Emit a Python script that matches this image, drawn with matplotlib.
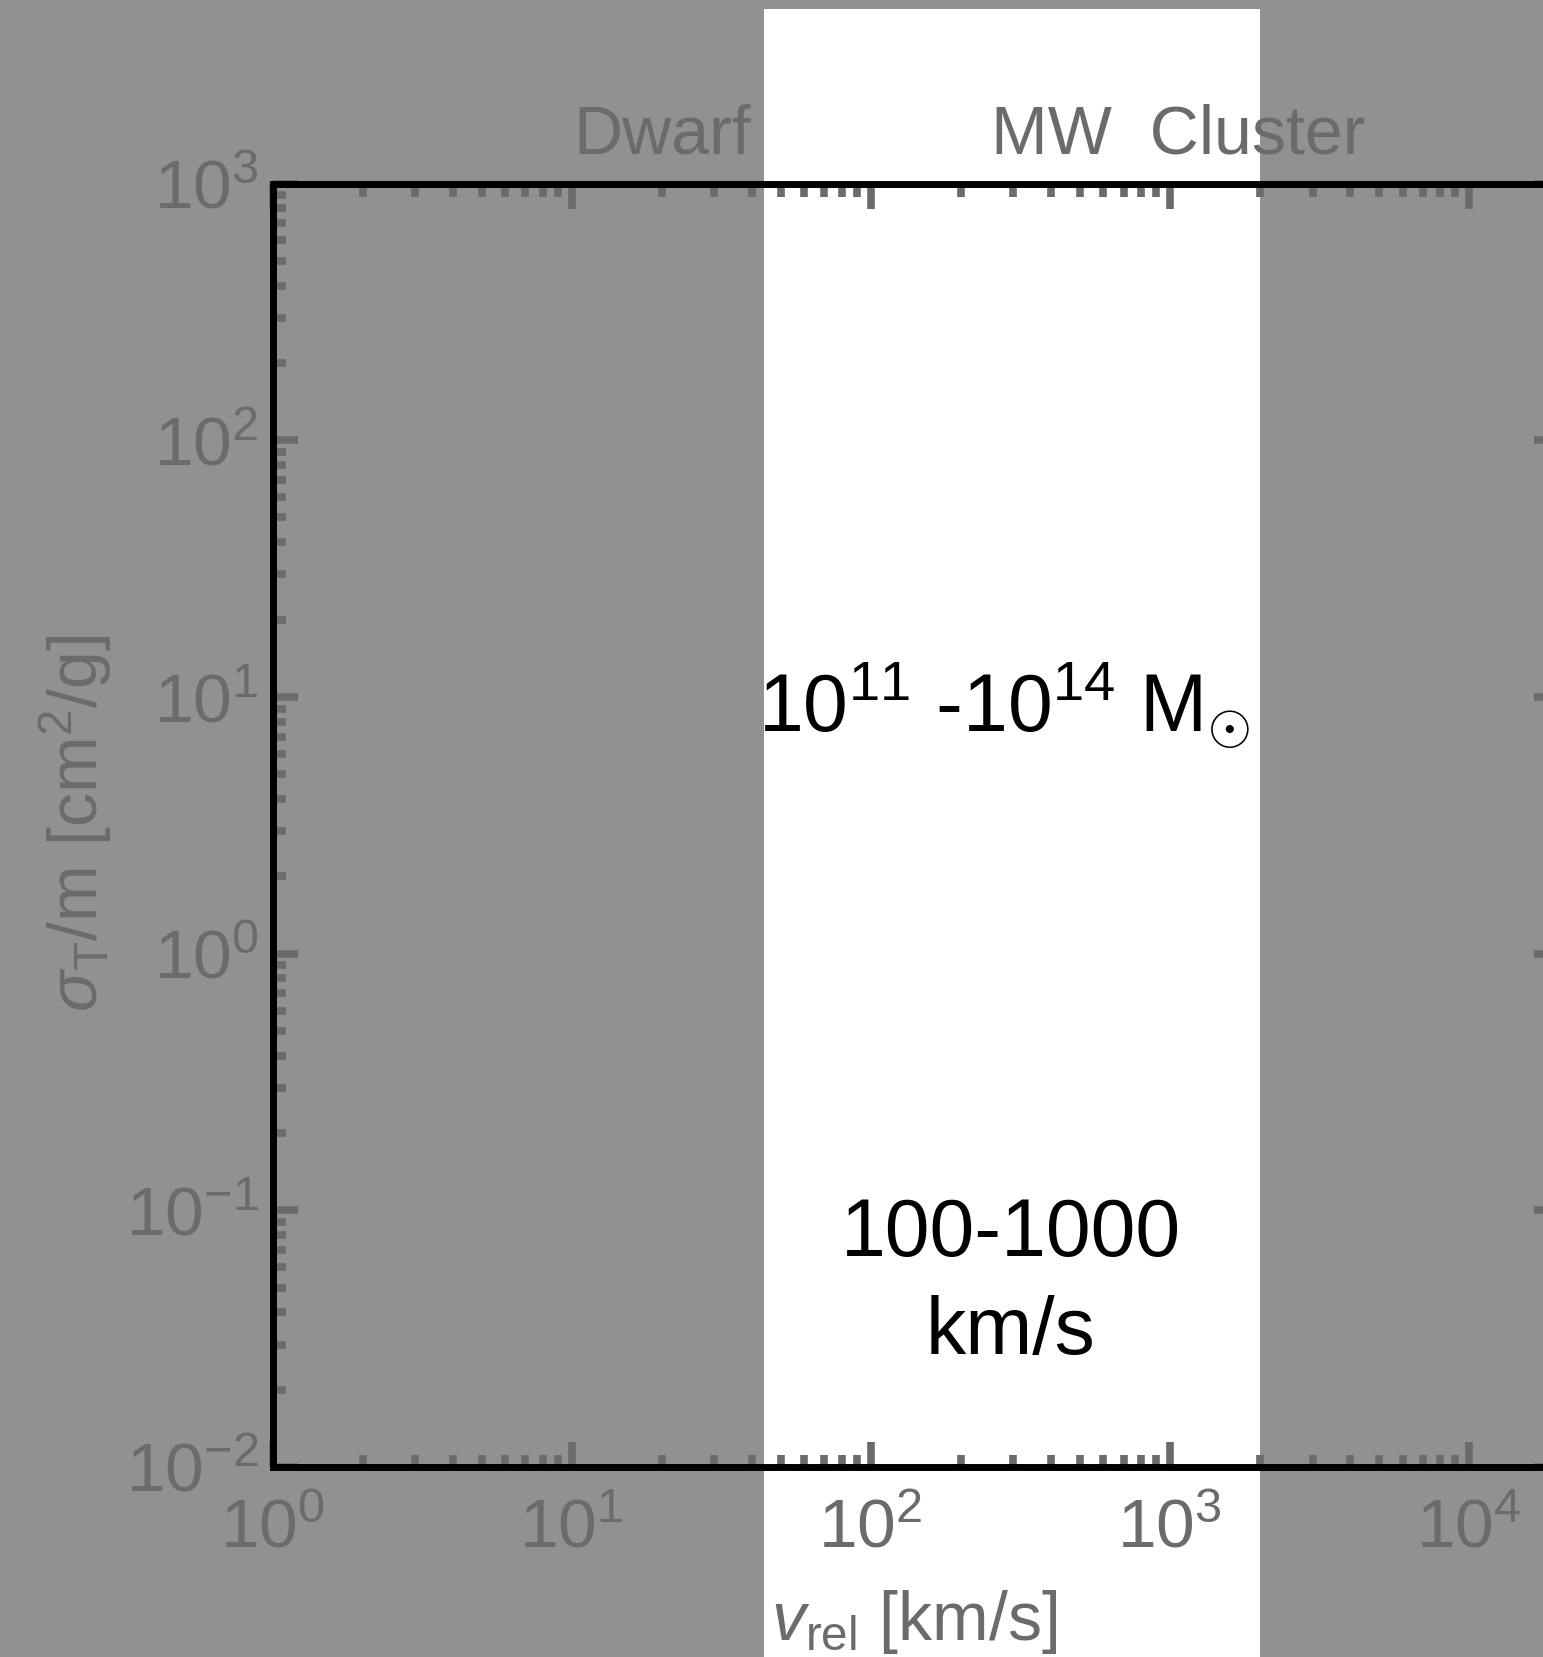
import math
import matplotlib
matplotlib.use("Agg")
import matplotlib.pyplot as plt
from matplotlib.patches import Rectangle
from matplotlib.transforms import blended_transform_factory
from matplotlib.ticker import FuncFormatter, LogLocator

plt.rcParams['font.family'] = ['Liberation Sans', 'DejaVu Sans']
plt.rcParams['mathtext.fontset'] = 'custom'
plt.rcParams['mathtext.rm'] = 'Liberation Sans'
plt.rcParams['mathtext.it'] = 'Liberation Sans:italic'
plt.rcParams['mathtext.bf'] = 'Liberation Sans:bold'

# ---- data ----
x_limits = [1, 2e4]            # v_rel [km/s]
y_limits = [1e-2, 1e3]         # sigma_T/m [cm^2/g]
band_velocity = [44, 2000]     # highlighted velocity band [km/s]
region_labels = ["Dwarf", "MW  Cluster"]
band_mass_label = r"$10^{11}$ -$10^{14}$ M$_{\odot}$"
band_velocity_label = "100-1000\nkm/s"
x_label = r"$v_{\mathrm{rel}}$ [km/s]"
y_label = r"$\sigma_{\mathrm{T}}$/m [cm$^{2}$/g]"

W, H = 1543, 1657
DPI = 100
GRAY_BG = '#919191'
GRAY_TXT = '#6b6b6b'

fig = plt.figure(figsize=(W / DPI, H / DPI), dpi=DPI, facecolor=GRAY_BG)


def fx(px):
    return px / W


def fy(py):
    return 1 - py / H


left, right, top, bottom = 272.5, 1559, 183.5, 1467
ax = fig.add_axes([fx(left), fy(bottom), fx(right) - fx(left), fy(top) - fy(bottom)])
ax.set_facecolor('none')
ax.set_xscale('log')
ax.set_yscale('log')
ax.set_xlim(*x_limits)
ax.set_ylim(*y_limits)

# white band spanning full figure height (except a small top margin)
trans = blended_transform_factory(ax.transData, fig.transFigure)
band = Rectangle((band_velocity[0], 0), band_velocity[1] - band_velocity[0], fy(8.5),
                 transform=trans, facecolor='white', edgecolor='none',
                 clip_on=False, zorder=0)
ax.add_patch(band)

for s in ax.spines.values():
    s.set_color('black')
    s.set_linewidth(5)

fmt = FuncFormatter(lambda v, p: r'$\mathregular{10^{%d}}$' % round(math.log10(v)))
ax.xaxis.set_major_formatter(fmt)
ax.yaxis.set_major_formatter(fmt)
ax.xaxis.set_major_locator(LogLocator(base=10, numticks=20))
ax.yaxis.set_major_locator(LogLocator(base=10, numticks=20))
ax.xaxis.set_minor_locator(LogLocator(base=10, subs=range(2, 10), numticks=100))
ax.yaxis.set_minor_locator(LogLocator(base=10, subs=range(2, 10), numticks=100))

ax.tick_params(which='both', direction='in', top=True, right=True,
               color=GRAY_TXT, labelcolor=GRAY_TXT, width=5.5)
ax.tick_params(which='major', length=18, labelsize=50)
ax.tick_params(axis='x', which='major', pad=22)
ax.tick_params(axis='y', which='major', pad=10)
ax.tick_params(which='minor', length=9)

# axis labels
fig.text(fx(914), fy(1622), x_label, color=GRAY_TXT, fontsize=49,
         ha='center', va='center')
fig.text(fx(76), fy(823), y_label, color=GRAY_TXT, fontsize=49,
         ha='center', va='center', rotation=90)

# region labels
fig.text(fx(662), fy(153), region_labels[0], color=GRAY_TXT, fontsize=49,
         ha='center', va='baseline')
fig.text(fx(1178), fy(153), region_labels[1], color=GRAY_TXT, fontsize=49,
         ha='center', va='baseline')

# band annotations
fig.text(fx(1004), fy(732), band_mass_label, color='black', fontsize=58,
         ha='center', va='baseline')
fig.text(fx(1011), fy(1284), band_velocity_label, color='black', fontsize=58,
         ha='center', va='center', multialignment='center', linespacing=1.36)

fig.savefig('out.png', dpi=DPI, facecolor=GRAY_BG)
